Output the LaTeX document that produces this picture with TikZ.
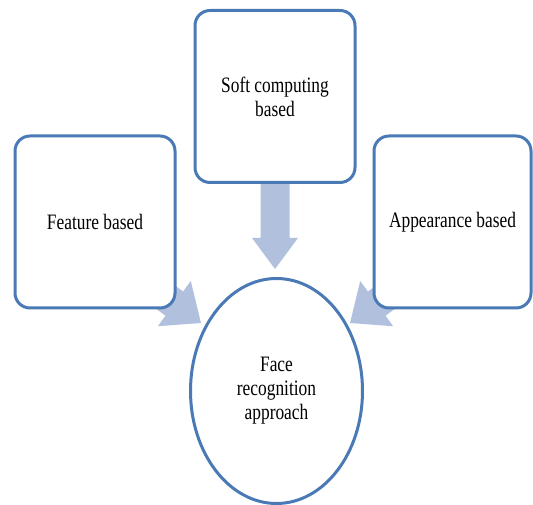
\documentclass[tikz,border=0pt]{standalone}
\usepackage{fontspec}
\setmainfont{Liberation Serif}[FakeStretch=0.79]
\usetikzlibrary{shapes.geometric}
\definecolor{edgeblue}{HTML}{4A7AB5}
\definecolor{arrowblue}{HTML}{B1C1DD}
\tikzset{
  x=1pt, y=1pt,
  box/.style={draw=edgeblue, line width=3pt, fill=white, rounded corners=15pt,
    minimum width=160pt, minimum height=172pt, inner sep=0pt, align=center,
    font=\fontsize{22}{24}\selectfont},
  oval/.style={draw=edgeblue, line width=3pt, fill=white, ellipse,
    minimum width=172pt, minimum height=225pt, inner sep=0pt, align=center,
    font=\fontsize{22}{24}\selectfont},
  blockarrow/.style={fill=arrowblue, draw=none}
}
\begin{document}
\begin{tikzpicture}
\useasboundingbox (0,0) rectangle (533,505);
% arrow tips
\coordinate (tipS) at (275,236);
\coordinate (tipL) at (201,182);
\coordinate (tipR) at (350,182);
% block arrows (behind the boxes)
\begin{scope}[shift={(tipS)}, rotate=-90]
  \fill[blockarrow] (0,0) -- (-31,23) -- (-31,14.5) -- (-90,14.5) -- (-90,-14.5) -- (-31,-14.5) -- (-31,-23) -- cycle;
\end{scope}
\begin{scope}[shift={(tipL)}, rotate=-36]
  \fill[blockarrow] (0,0) -- (-33,28) -- (-33,15) -- (-100,15) -- (-100,-15) -- (-33,-15) -- (-33,-28) -- cycle;
\end{scope}
\begin{scope}[shift={(tipR)}, rotate=216]
  \fill[blockarrow] (0,0) -- (-33,28) -- (-33,15) -- (-100,15) -- (-100,-15) -- (-33,-15) -- (-33,-28) -- cycle;
\end{scope}
% boxes
\node[box] (soft) at (275,408.5) {Soft computing\\based};
\node[box] (feat) at (95,283) {Feature based};
\node[box, minimum width=157pt] (app) at (452.5,283) {Appearance based};
\node[oval] (face) at (276.5,114) {Face\\recognition\\approach};
\end{tikzpicture}
\end{document}
